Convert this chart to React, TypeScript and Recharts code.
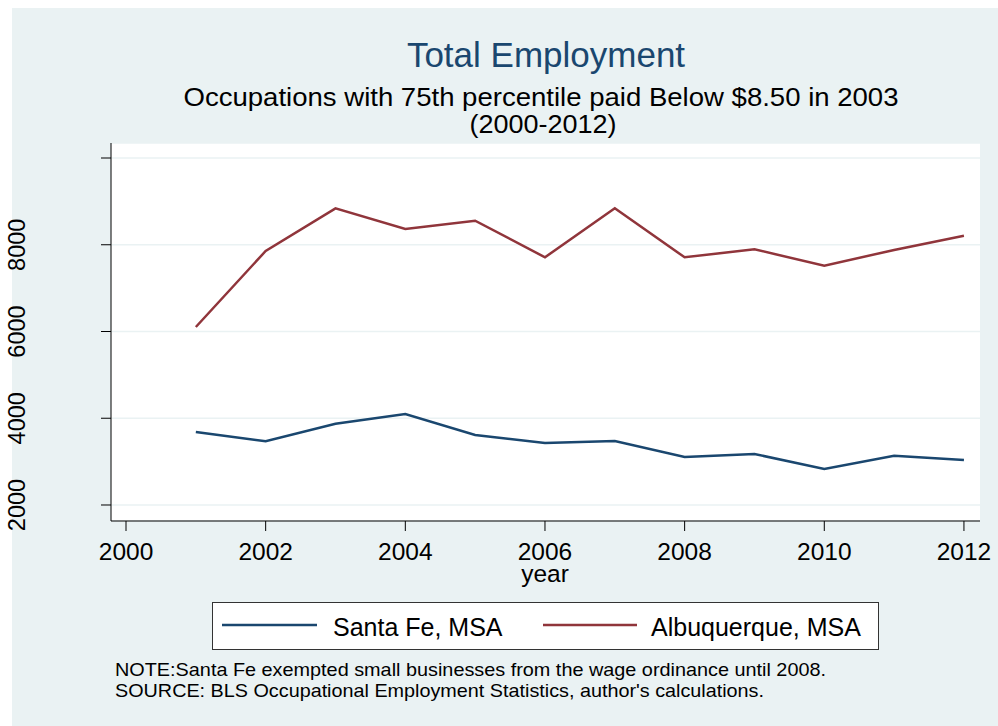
import React from 'react';
import { LineChart, Line, XAxis, YAxis, CartesianGrid } from 'recharts';

const years = [2001, 2002, 2003, 2004, 2005, 2006, 2007, 2008, 2009, 2010, 2011, 2012];
const santaFe = [3683, 3468, 3875, 4098, 3614, 3429, 3476, 3107, 3176, 2830, 3137, 3037];
const albuquerque = [6104, 7856, 8840, 8363, 8555, 7711, 8840, 7711, 7895, 7517, 7880, 8209];
const xTicks = [2000, 2002, 2004, 2006, 2008, 2010, 2012];
const yTicks = [2000, 4000, 6000, 8000, 10000];
const seriesNames = ['Santa Fe, MSA', 'Albuquerque, MSA'];
const titleText = 'Total Employment';
const subtitleLines = ['Occupations with 75th percentile paid Below $8.50 in 2003', '(2000-2012)'];
const noteLines = [
  'NOTE:Santa Fe exempted small businesses from the wage ordinance until 2008.',
  "SOURCE: BLS Occupational Employment Statistics, author's calculations.",
];

const NAVY = '#1a476f';
const MAROON = '#90353b';
const BG = '#EAF2F3';
const FONT = '"Liberation Sans", Arial, Helvetica, sans-serif';

const data = years.map((y, i) => ({ year: y, santaFe: santaFe[i], albuquerque: albuquerque[i] }));

const YTick = (props: any) => {
  const { y, payload } = props;
  if (payload.value > 8000) return <g />;
  return (
    <text
      x={13}
      y={y}
      transform={`rotate(-90, 13, ${y})`}
      textAnchor="middle"
      fontSize={23.5}
      fontFamily={FONT}
      fill="#000"
    >
      {payload.value}
    </text>
  );
};

const XTick = (props: any) => {
  const { x, payload } = props;
  return (
    <text x={x} y={552} textAnchor="middle" fontSize={24.5} fontFamily={FONT} fill="#000">
      {payload.value}
    </text>
  );
};

export default function App() {
  const W = 986;
  const H = 718;
  return (
    <div style={{ position: 'absolute', left: 12, top: 8, width: W, height: H, background: BG }}>
      <style>{`.recharts-surface{overflow:visible !important;} .recharts-wrapper{overflow:visible !important;}`}</style>
      <LineChart
        width={W}
        height={H}
        data={data}
        margin={{ top: 135, right: 18, bottom: 165, left: 59 }}
      >
        <CartesianGrid vertical={false} stroke={BG} strokeWidth={1.5} fill="#ffffff" />
        <XAxis
          dataKey="year"
          type="number"
          domain={[1999.785, 2012.23]}
          ticks={xTicks}
          allowDataOverflow
          height={40}
          tickSize={10}
          axisLine={{ stroke: '#000' }}
          tickLine={{ stroke: '#000' }}
          tick={<XTick />}
          interval={0}
        />
        <YAxis
          type="number"
          domain={[1631, 10346]}
          ticks={yTicks}
          allowDataOverflow
          width={40}
          tickSize={10}
          axisLine={{ stroke: '#000' }}
          tickLine={{ stroke: '#000' }}
          tick={<YTick />}
          interval={0}
        />
        <Line
          type="linear"
          dataKey="santaFe"
          name={seriesNames[0]}
          stroke={NAVY}
          strokeWidth={2.5}
          dot={false}
          isAnimationActive={false}
        />
        <Line
          type="linear"
          dataKey="albuquerque"
          name={seriesNames[1]}
          stroke={MAROON}
          strokeWidth={2.5}
          dot={false}
          isAnimationActive={false}
        />
      </LineChart>
      <svg
        width={W}
        height={H}
        style={{ position: 'absolute', left: 0, top: 0, pointerEvents: 'none', overflow: 'visible' }}
        fontFamily={FONT}
      >
        <text x={534} y={59} textAnchor="middle" fontSize={35} fill={NAVY}>
          {titleText}
        </text>
        <text x={529} y={98} textAnchor="middle" fontSize={26} fill="#000" textLength={715} lengthAdjust="spacingAndGlyphs">
          {subtitleLines[0]}
        </text>
        <text x={531} y={125} textAnchor="middle" fontSize={26} fill="#000" textLength={147} lengthAdjust="spacingAndGlyphs">
          {subtitleLines[1]}
        </text>
        <text x={533} y={574} textAnchor="middle" fontSize={24.5} fill="#000">
          year
        </text>
        <rect x={200.5} y={594.5} width={666} height={47} fill="#fff" stroke="#333" strokeWidth={1} />
        <line x1={210} y1={617} x2={305} y2={617} stroke={NAVY} strokeWidth={2.5} />
        <text x={321} y={628} fontSize={25} fill="#000">
          {seriesNames[0]}
        </text>
        <line x1={531} y1={617} x2={625} y2={617} stroke={MAROON} strokeWidth={2.5} />
        <text x={639} y={628} fontSize={25} fill="#000">
          {seriesNames[1]}
        </text>
        <text x={103} y={668} fontSize={18.5} fill="#000" textLength={711} lengthAdjust="spacingAndGlyphs">
          {noteLines[0]}
        </text>
        <text x={103} y={689} fontSize={18.5} fill="#000" textLength={649} lengthAdjust="spacingAndGlyphs">
          {noteLines[1]}
        </text>
      </svg>
    </div>
  );
}
